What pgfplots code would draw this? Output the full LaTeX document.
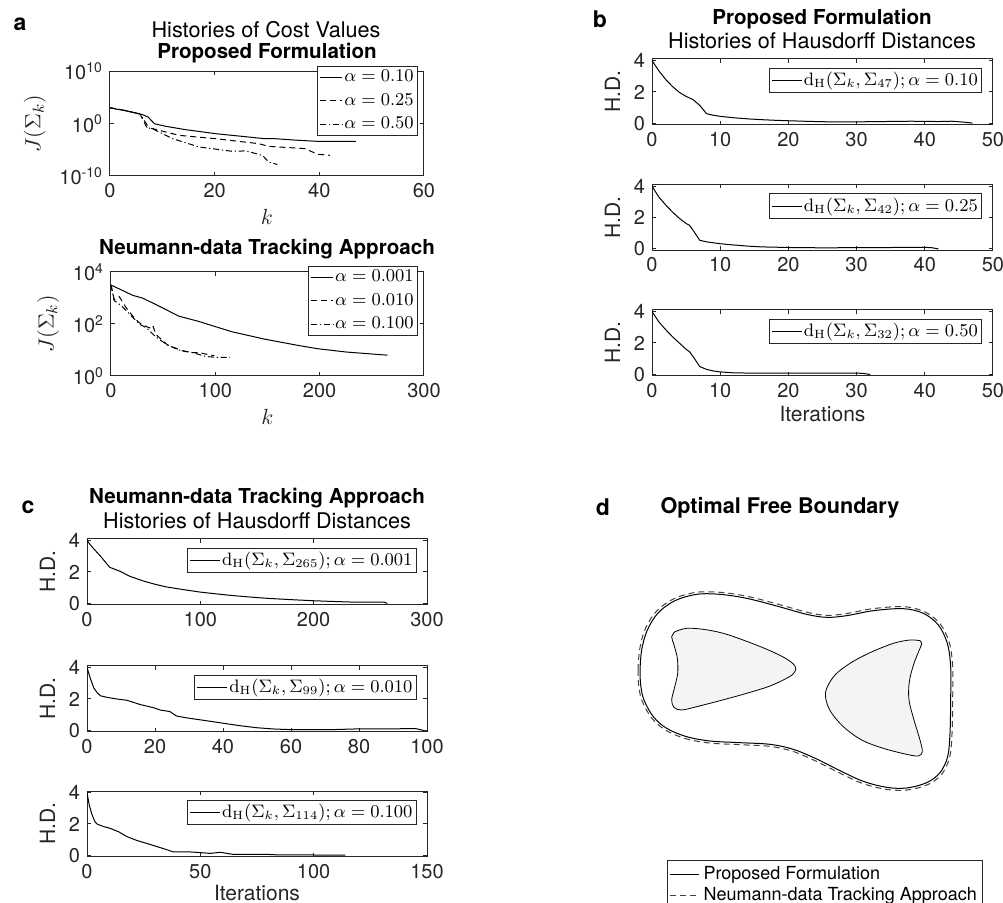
\documentclass[border=0pt]{standalone}
\usepackage[no-math]{fontspec}
\setmainfont{TeX Gyre Heros}
\usepackage{pgfplots}
\pgfplotsset{compat=1.18}

\definecolor{axgray}{gray}{0.15}
\definecolor{holefill}{gray}{0.955}
\definecolor{dashgray}{gray}{0.25}

\pgfplotsset{
  matlab/.style={
    scale only axis,
    anchor=north west,
    axis line style={axgray, line width=0.5pt},
    tick style={axgray, line width=0.5pt},
    major tick length=2pt,
    tick align=inside,
    yminorticks=false, xminorticks=false,
    /pgf/number format/assume math mode=true,
    every tick label/.append style={font=\fontsize{10}{12}\selectfont, text=axgray},
    label style={font=\fontsize{10.5}{12}\selectfont, text=axgray},
    legend cell align=left,
    legend style={draw=axgray, line width=0.5pt, fill=white,
      inner sep=1.2pt, nodes={inner sep=0.7pt}},
    every axis plot/.append style={line width=0.5pt, black, no markers},
  },
  shortleg/.style={legend image code/.code={\draw[##1] (0pt,0pt) -- (11pt,0pt);},
    legend style={font=\fontsize{9}{10}\selectfont, row sep=3pt}},
  longleg/.style={legend image code/.code={\draw[##1] (0pt,0pt) -- (15pt,0pt);},
    legend style={font=\fontsize{8.8}{10}\selectfont, row sep=0pt}},
  hd/.style={matlab, width=170.5pt, height=33pt, ymin=-0.1, ymax=4.1, ytick={0,2,4},
    ylabel={H.D.}, longleg, legend style={at={(0.968,0.864)}, anchor=north east}},
  hdc/.style={matlab, width=170pt, height=33pt, ymin=-0.1, ymax=4.1, ytick={0,2,4},
    ylabel={H.D.}, longleg, legend style={at={(0.97,0.864)}, anchor=north east}},
}
\tikzset{
  solidline/.style={black, solid},
  dashedline/.style={black, dash pattern=on 3pt off 2pt},
  dashdotline/.style={black, dash pattern=on 3pt off 1.4pt on 0.6pt off 1.4pt},
}

\begin{document}
\begin{tikzpicture}
\useasboundingbox (0,0) rectangle (501.5pt,-451.5pt);

% panel letters and titles
\begin{scope}[every node/.style={font=\bfseries\fontsize{11.5}{13}\selectfont}]
\node at (10pt,-12pt) {a};
\node at (300pt,-9.5pt) {b};
\node at (14pt,-253.5pt) {c};
\node at (301.5pt,-253.5pt) {d};
\end{scope}
\begin{scope}[every node/.style={inner sep=0pt, font=\fontsize{10.8}{12}\selectfont}]
\node at (133pt,-15pt) {Histories of Cost Values};
\node[font=\bfseries\fontsize{10.3}{12}\selectfont] at (133.5pt,-26.5pt) {Proposed Formulation};
\node[font=\bfseries\fontsize{10.3}{12}\selectfont] at (133.5pt,-124.5pt) {Neumann-data Tracking Approach};
\node[font=\bfseries\fontsize{10.3}{12}\selectfont] at (411pt,-9.5pt) {Proposed Formulation};
\node at (411pt,-20.5pt) {Histories of Hausdorff Distances};
\node[font=\bfseries\fontsize{10.3}{12}\selectfont] at (128.5pt,-249pt) {Neumann-data Tracking Approach};
\node at (128.5pt,-260.5pt) {Histories of Hausdorff Distances};
\node[font=\bfseries\fontsize{10.8}{12}\selectfont] at (390pt,-254pt) {Optimal Free Boundary};
\end{scope}

% ---------- a: cost values, proposed formulation ----------
\begin{axis}[matlab, shortleg, at={(55pt,-35.75pt)}, width=157pt, height=52.25pt,
  xmin=0, xmax=60, xtick={0,20,40,60},
  ymode=log, ymin=1e-10, ymax=1e10, ytick={1e-10,1,1e10},
  yticklabels={10\textsuperscript{-10},10\textsuperscript{0},10\textsuperscript{10}},
  xlabel={$k$}, ylabel={$J(\Sigma_k)$},
  xlabel style={yshift=1pt},
  ylabel style={font=\fontsize{11}{12}\selectfont},
  legend style={at={(0.981,1.053)}, anchor=north east}]
\addplot[solidline] coordinates {(0,1122) (3,300) (6.3,51.3) (7.3,18.6) (8.5,1.0) (10.7,0.316)
  (14.5,0.0724) (20.2,0.0126) (26.5,0.00288) (29.6,0.00138) (31.5,0.00138)
  (36,0.000676) (39.7,0.000427) (47,0.000427)};
\addlegendentry{$\alpha = 0.10$}
\addplot[dashedline] coordinates {(0,1122) (3,330) (5.7,79) (7,0.234) (8.2,0.112)
  (13.2,0.00603) (20.2,0.00138) (28.4,0.000155) (30.3,4.79e-5) (37.2,1.74e-5)
  (39.7,1.45e-6) (42,9.3e-7)};
\addlegendentry{$\alpha = 0.25$}
\addplot[dashdotline] coordinates {(0,1122) (3,330) (5.7,79) (7.5,0.15) (8.2,0.1)
  (12,0.00138) (17,3.6e-5) (23.3,5.4e-6) (25.9,6.3e-6) (28.4,1.45e-6)
  (29.3,6.0e-7) (30.3,5.0e-8) (32,1.55e-8)};
\addlegendentry{$\alpha = 0.50$}
\end{axis}

% ---------- a: cost values, Neumann-data tracking ----------
\begin{axis}[matlab, shortleg, at={(55.5pt,-136pt)}, width=156.5pt, height=52pt,
  xmin=0, xmax=300, xtick={0,100,200,300},
  ymode=log, ymin=1, ymax=1e4, ytick={1,100,1e4},
  yticklabels={10\textsuperscript{0},10\textsuperscript{2},10\textsuperscript{4}},
  xlabel={$k$}, ylabel={$J(\Sigma_k)$},
  xlabel style={yshift=1pt},
  ylabel style={font=\fontsize{11}{12}\selectfont},
  legend style={at={(0.981,1.058)}, anchor=north east}]
\addplot[solidline] coordinates {(0,3162) (21,1259) (30,1000) (43,562) (65,200) (84,126)
  (100,79.4) (116,50.1) (147,26.3) (179,15.1) (198,11.2) (226,8.32) (265,6.31)};
\addlegendentry{$\alpha = 0.001$}
\addplot[dashedline] coordinates {(0,3162) (3,891) (5,891) (8,1122) (11,708)
  (15,398) (21,200) (27,112) (34,79.4) (37,70.8) (40,89.1) (43,39.8) (54,15.8)
  (60,12.6) (70,8.91) (78,7.94) (85,7.94) (90,7.08) (99,6.03)};
\addlegendentry{$\alpha = 0.010$}
\addplot[dashdotline] coordinates {(0,3162) (3,794) (10,501) (21,178) (27,100)
  (34,70.8) (43,31.6) (54,15.8) (65,10) (78,7.94) (91,5.62) (100,5.25) (114,5.25)};
\addlegendentry{$\alpha = 0.100$}
\end{axis}

% ---------- b: Hausdorff distances, proposed formulation ----------
\begin{axis}[hd, at={(326pt,-29.5pt)}, xmin=0, xmax=50, xtick={0,10,...,50}]
\addplot[solidline] coordinates {(0,4.0) (1,3.35) (2,2.8) (3,2.35) (4,1.98) (5,1.72) (6,1.52)
  (7,1.15) (8,0.62) (9,0.52) (10,0.45) (12,0.36) (14,0.29) (16,0.24) (18,0.2)
  (20,0.17) (23,0.13) (26,0.1) (30,0.1) (34,0.12) (38,0.14) (42,0.12) (44,0.14)
  (46,0.07) (47,0.02)};
\addlegendentry{$\mathrm{d}_{\mathrm{H}}(\Sigma_k,\Sigma_{47});\alpha = 0.10$}
\end{axis}
\begin{axis}[hd, at={(326pt,-92.25pt)}, xmin=0, xmax=50, xtick={0,10,...,50}]
\addplot[solidline] coordinates {(0,4.0) (1,3.3) (2,2.8) (3,2.35) (4,1.95) (5,1.62) (5.5,1.5)
  (6,1.2) (7,0.55) (8,0.45) (10,0.33) (12,0.25) (14,0.18) (16,0.13) (20,0.09)
  (25,0.07) (30,0.08) (35,0.09) (40,0.1) (41,0.08) (42,0.0)};
\addlegendentry{$\mathrm{d}_{\mathrm{H}}(\Sigma_k,\Sigma_{42});\alpha = 0.25$}
\end{axis}
\begin{axis}[hd, at={(326pt,-155pt)}, xmin=0, xmax=50, xtick={0,10,...,50},
  xlabel={Iterations}, xlabel style={yshift=2.5pt}]
\addplot[solidline] coordinates {(0,4.0) (1,3.35) (2,2.85) (3,2.4) (4,2.0) (5,1.6) (5.5,1.45)
  (6,1.15) (7,0.5) (8,0.32) (9,0.22) (10,0.16) (12,0.1) (15,0.08) (20,0.09)
  (25,0.08) (30,0.09) (31,0.06) (32,0.0)};
\addlegendentry{$\mathrm{d}_{\mathrm{H}}(\Sigma_k,\Sigma_{32});\alpha = 0.50$}
\end{axis}

% ---------- c: Hausdorff distances, Neumann-data tracking ----------
\begin{axis}[hdc, at={(43.5pt,-269.5pt)}, xmin=0, xmax=300, xtick={0,100,200,300}]
\addplot[solidline] coordinates {(0,4.0) (5,3.55) (12,3.0) (20,2.3) (29,2.05) (38,1.72)
  (50,1.42) (60,1.22) (70,1.05) (85,0.88) (100,0.72) (115,0.6) (130,0.49)
  (145,0.4) (160,0.32) (180,0.24) (200,0.17) (215,0.13) (232,0.09) (250,0.08)
  (262,0.09) (265,0.0)};
\addlegendentry{$\mathrm{d}_{\mathrm{H}}(\Sigma_k,\Sigma_{265});\alpha = 0.001$}
\end{axis}
\begin{axis}[hdc, at={(43.5pt,-333pt)}, xmin=0, xmax=100, xtick={0,20,...,100}]
\addplot[solidline] coordinates {(0,4.0) (1,3.3) (2,2.7) (3,2.4) (4,2.2) (6,2.1) (8.8,2.0)
  (11.7,1.92) (15.6,1.65) (19.5,1.45) (21.5,1.3) (24.4,1.2) (26.3,0.92)
  (29.3,0.8) (35,0.62) (40,0.46) (45,0.3) (50,0.17) (55,0.09) (60,0.05)
  (72,0.05) (80,0.1) (90,0.1) (96.6,0.12) (99,0.0)};
\addlegendentry{$\mathrm{d}_{\mathrm{H}}(\Sigma_k,\Sigma_{99});\alpha = 0.010$}
\end{axis}
\begin{axis}[hdc, at={(43.5pt,-395.5pt)}, xmin=0, xmax=150, xtick={0,50,100,150},
  xlabel={Iterations}, xlabel style={yshift=3.5pt}]
\addplot[solidline] coordinates {(0,4.0) (1,3.2) (2.2,2.6) (3.5,2.15) (4.4,2.0) (7,1.85)
  (10.3,1.72) (14,1.5) (17.6,1.2) (22,0.95) (26.5,0.76) (30,0.6) (33.8,0.43)
  (38.2,0.22) (45.6,0.22) (50,0.18) (54.4,0.13) (58.8,0.2) (64.7,0.06) (79,0.07)
  (85,0.03) (94,0.03) (114,0.02)};
\addlegendentry{$\mathrm{d}_{\mathrm{H}}(\Sigma_k,\Sigma_{114});\alpha = 0.100$}
\end{axis}

% ---------- d: optimal free boundary ----------
\begin{axis}[scale only axis, anchor=north west, at={(280pt,-280pt)},
  width=221.5pt, height=171.5pt, hide axis,
  xmin=0, xmax=1329, ymin=0, ymax=1029, y dir=reverse,
  legend cell align=left,
  legend image code/.code={\draw[#1] (0pt,0pt) -- (14.5pt,0pt);},
  legend style={at={(axis cs:321,900)}, anchor=north west, draw=axgray,
    line width=0.5pt, font=\fontsize{9}{9}\selectfont, inner sep=1pt, row sep=-1.5pt}]
% interior holes
\addplot[forget plot, smooth, tension=0.55, fill=holefill, draw=black, line width=0.4pt]
  coordinates {(345,215) (380,205) (430,208) (490,220) (560,244) (630,272)
  (680,297) (705,318) (705,335) (685,352) (630,378) (560,400) (480,422)
  (410,440) (365,450) (342,442) (335,420) (343,385) (353,340) (352,295)
  (342,255) (335,230) (345,215)};
\addplot[forget plot, smooth, tension=0.55, fill=holefill, draw=black, line width=0.4pt]
  coordinates {(1080,242) (1050,240) (1000,250) (930,278) (870,310) (825,345)
  (800,385) (797,415) (812,455) (850,500) (905,540) (970,565) (1040,583)
  (1075,588) (1087,575) (1080,540) (1062,480) (1047,420) (1048,365) (1062,310)
  (1080,265) (1085,250) (1080,242)};
% outer boundaries
\addplot[smooth, tension=0.55, black, line width=0.5pt]
  coordinates {(240,330) (245,270) (262,210) (295,158) (345,122) (410,103)
  (480,103) (560,115) (650,138) (740,163) (800,172) (860,167) (940,152)
  (1030,146) (1090,160) (1135,195) (1162,250) (1172,320) (1172,420) (1170,520)
  (1163,590) (1140,638) (1100,668) (1040,684) (980,682) (910,664) (840,632)
  (770,597) (700,568) (630,553) (540,548) (450,543) (380,530) (320,505)
  (280,470) (252,420) (242,375) (240,330)};
\addlegendentry{Proposed Formulation}
\addplot[smooth, tension=0.55, dashgray, line width=0.5pt, dash pattern=on 3pt off 2pt]
  coordinates {(234,330) (239,268) (256,206) (290,153) (342,116) (408,97)
  (481,97) (562,109) (652,132) (742,157) (800,166) (858,161) (938,146)
  (1031,140) (1093,155) (1140,191) (1168,248) (1178,320) (1178,420) (1176,522)
  (1169,592) (1145,643) (1103,674) (1041,690) (978,688) (907,670) (837,638)
  (767,603) (698,574) (629,559) (539,554) (448,549) (377,536) (316,510)
  (275,474) (246,422) (236,376) (234,330)};
\addlegendentry{Neumann-data Tracking Approach}
\end{axis}
\end{tikzpicture}
\end{document}
